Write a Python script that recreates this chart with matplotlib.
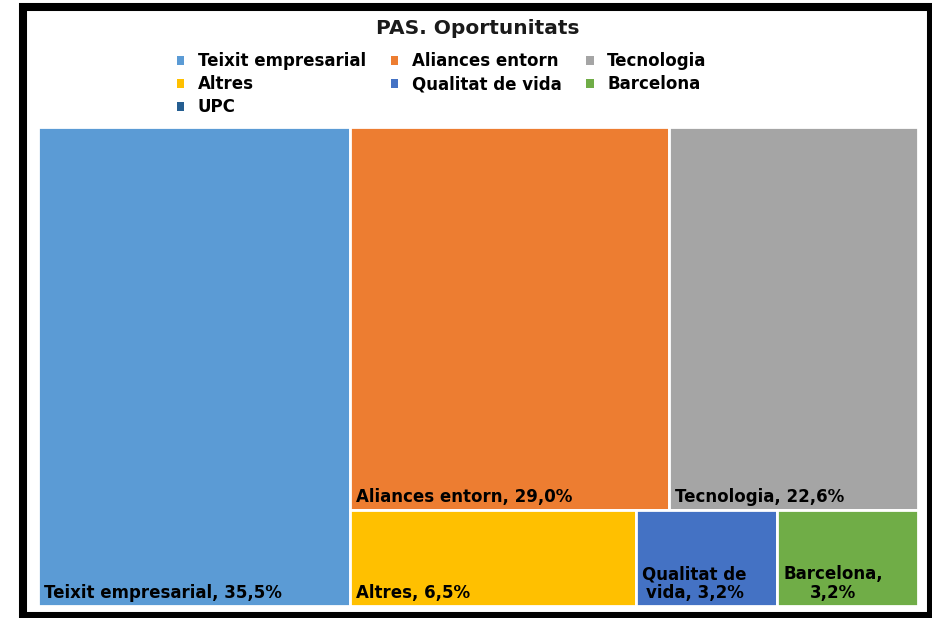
import numpy as np
import matplotlib
matplotlib.use('Agg')
import matplotlib.pyplot as plt
from matplotlib.patches import Rectangle, Patch

# data (percent)
names = ['Teixit empresarial', 'Aliances entorn', 'Tecnologia', 'Altres',
         'Qualitat de vida', 'Barcelona', 'UPC']
values = [35.5, 29.0, 22.6, 6.5, 3.2, 3.2, 0.0]
colors = ['#5B9BD5', '#ED7D31', '#A5A5A5', '#FFC000', '#4472C4', '#70AD47', '#255E91']
labels = ['Teixit empresarial, 35,5%', 'Aliances entorn, 29,0%', 'Tecnologia, 22,6%',
          'Altres, 6,5%', 'Qualitat de\nvida, 3,2%', 'Barcelona,\n3,2%', '']
# how the boxes are grouped: first group is a column, the others stacked rows
groups = [[0], [1, 2], [3, 4, 5]]

plt.rcParams['font.family'] = ['DejaVu Sans']

W_px, H_px = 932, 618
fig = plt.figure(figsize=(W_px / 100, H_px / 100), dpi=100)
fig.patch.set_facecolor('white')

# plot area in pixels
left, top, right, bottom = 38, 127, 918, 606
ax = fig.add_axes([left / W_px, 1 - bottom / H_px, (right - left) / W_px, (bottom - top) / H_px])
W = right - left
H = bottom - top
ax.set_xlim(0, W)
ax.set_ylim(0, H)
ax.axis('off')


def layout(vals, groups, W, H):
    rects = {}
    total = sum(vals[i] for g in groups for i in g)
    first = groups[0]
    cw = sum(vals[i] for i in first) / total * W
    y = H
    for i in first:
        h = vals[i] / sum(vals[j] for j in first) * H
        rects[i] = (0, y - h, cw, h)
        y -= h
    rest = total - sum(vals[i] for i in first)
    y = H
    for g in groups[1:]:
        gs = sum(vals[i] for i in g)
        h = gs / rest * H
        x = cw
        for i in g:
            w = vals[i] / gs * (W - cw)
            rects[i] = (x, y - h, w, h)
            x += w
        y -= h
    return rects


rects = layout(values, groups, W, H)
for i, (x, y, w, h) in rects.items():
    ax.add_patch(Rectangle((x, y), w, h, facecolor=colors[i], edgecolor='white', linewidth=2))
    ax.text(x + 6, y + 4, labels[i], ha='left', va='bottom', multialignment='center',
            fontsize=12, fontweight='bold', color='black', linespacing=1.05)

fig.text(0.513, 1 - 28 / H_px, 'PAS. Oportunitats', ha='center', va='center',
         fontsize=14.5, fontweight='bold', color='#1a1a1a')

order = [0, 3, 6, 1, 4, 2, 5]
handles = [Patch(facecolor=colors[i], edgecolor='none', label=names[i]) for i in order]
fig.legend(handles=handles, ncol=3, loc='upper center', bbox_to_anchor=(0.474, 1 - 44 / H_px),
           frameon=False, prop={'size': 12, 'weight': 'bold'}, handlelength=0.45, handleheight=0.45,
           handletextpad=0.8, labelspacing=0.3, columnspacing=1.5, borderpad=0)

# black frame around the picture
fig.add_artist(Rectangle((23 / W_px, 1 - 616 / H_px), (931 - 23) / W_px, (616 - 6.5) / H_px,
                         transform=fig.transFigure, fill=False, edgecolor='black', linewidth=5.8))

fig.savefig('out.png', dpi=100)
